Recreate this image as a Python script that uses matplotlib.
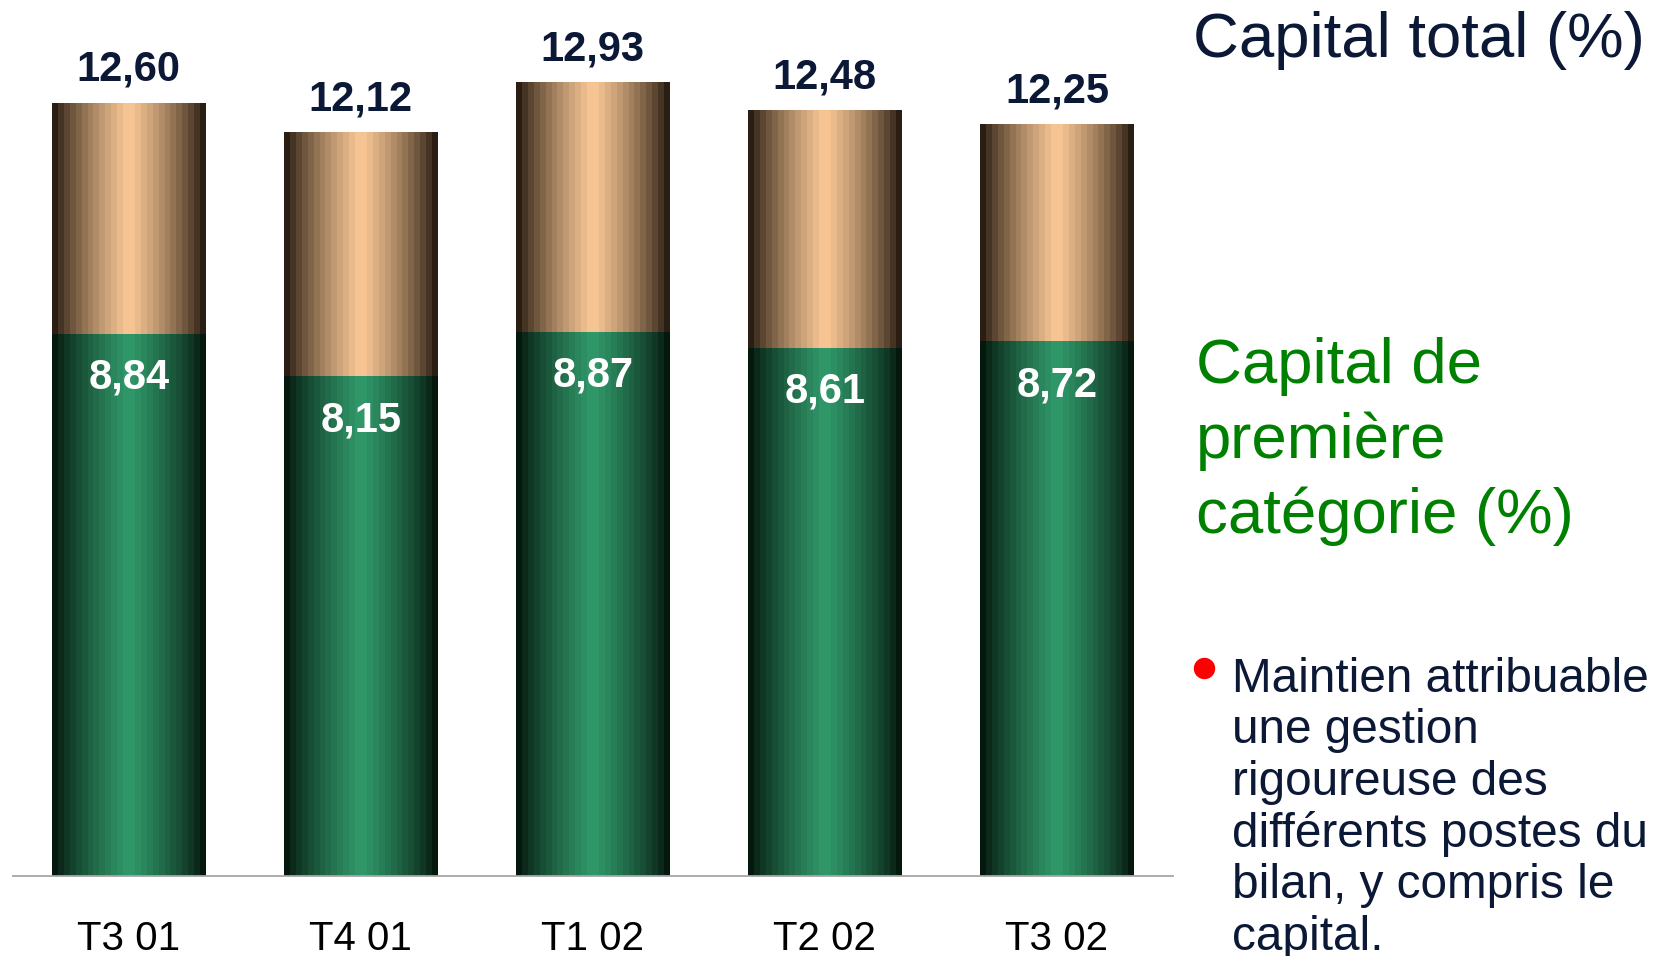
import numpy as np
import matplotlib
matplotlib.use("Agg")
import matplotlib.pyplot as plt
from matplotlib.lines import Line2D
from matplotlib.colors import to_rgb

plt.rcParams["font.family"] = ["Liberation Sans", "DejaVu Sans"]

# data
quarters = ["T3 01", "T4 01", "T1 02", "T2 02", "T3 02"]
capital_total = [12.60, 12.12, 12.93, 12.48, 12.25]
capital_tier1 = [8.84, 8.15, 8.87, 8.61, 8.72]

title_total = "Capital total (%)"
title_tier1 = ["Capital de", "première", "catégorie (%)"]
bullet_lines = ["Maintien attribuable", "une gestion", "rigoureuse des",
                "différents postes du", "bilan, y compris le", "capital."]

NAVY = "#0b1836"
GREEN_TXT = "#008000"


def fmt(v):
    return f"{v:.2f}".replace(".", ",")


def gradient(center, edge, n=26):
    # horizontal banded "cylinder" shading
    x = (np.arange(n) + 0.5) / n
    t = np.clip(1 - np.abs(x - 0.5) / 0.5, 0, 1) ** 0.7
    c, e = np.array(to_rgb(center)), np.array(to_rgb(edge))
    row = e + (c - e) * t[:, None]
    return row[None, :, :]


peach_grad = gradient("#fdca98", "#120a03")
green_grad = gradient("#319a6b", "#000a04")

fig = plt.figure(figsize=(16.54, 9.56), dpi=100)
ax = fig.add_axes([0.00768, 0.0837, 0.7015, 0.9163])

x = np.arange(len(quarters))
upper = [t - f for t, f in zip(capital_total, capital_tier1)]
low_bars = ax.bar(x, capital_tier1, width=0.66, color="none", zorder=2)
up_bars = ax.bar(x, upper, width=0.66, bottom=capital_tier1, color="none", zorder=2)

for r in low_bars:
    ax.imshow(green_grad, extent=[r.get_x(), r.get_x() + r.get_width(),
                                  r.get_y(), r.get_y() + r.get_height()],
              aspect="auto", interpolation="nearest", zorder=2)
for r in up_bars:
    ax.imshow(peach_grad, extent=[r.get_x(), r.get_x() + r.get_width(),
                                  r.get_y(), r.get_y() + r.get_height()],
              aspect="auto", interpolation="nearest", zorder=2)

for xi, tot, t1 in zip(x, capital_total, capital_tier1):
    ax.annotate(fmt(tot), (xi, tot), xytext=(0, 16), textcoords="offset points",
                ha="center", va="baseline", fontsize=30, fontweight="bold", color=NAVY)
    ax.annotate(fmt(t1), (xi, t1), xytext=(0, -39.6), textcoords="offset points",
                ha="center", va="baseline", fontsize=30, fontweight="bold", color="white")

ax.set_xlim(-0.5, 4.5)
ax.set_ylim(0, 14.28)
ax.set_xticks(x)
ax.set_xticklabels(quarters, fontsize=29, color="black")
ax.tick_params(axis="x", length=0, pad=31.7)
ax.set_yticks([])
for s in ["left", "right", "top"]:
    ax.spines[s].set_visible(False)
ax.spines["bottom"].set_color("#a6a6a6")
ax.spines["bottom"].set_linewidth(1.3)
ax.patch.set_alpha(0)

W, H = 1654, 956
fig.text(1193 / W, 1 - 56.7 / H, title_total, fontsize=45.7, color=NAVY,
         ha="left", va="baseline")
for i, line in enumerate(title_tier1):
    fig.text(1196 / W, 1 - (382.7 + 75.3 * i) / H, line, fontsize=45.7,
             color=GREEN_TXT, ha="left", va="baseline")

# bullet text runs off the bottom edge in the original slide too
fig.add_artist(Line2D([1204 / W], [1 - 668.3 / H], marker="o", ms=14.4,
                      color="red", mec="red", transform=fig.transFigure))
for i, line in enumerate(bullet_lines):
    fig.text(1231.7 / W, 1 - (691.7 + 51.7 * i) / H, line, fontsize=34.4,
             color=NAVY, ha="left", va="baseline")

fig.savefig("out.png", dpi=100)
